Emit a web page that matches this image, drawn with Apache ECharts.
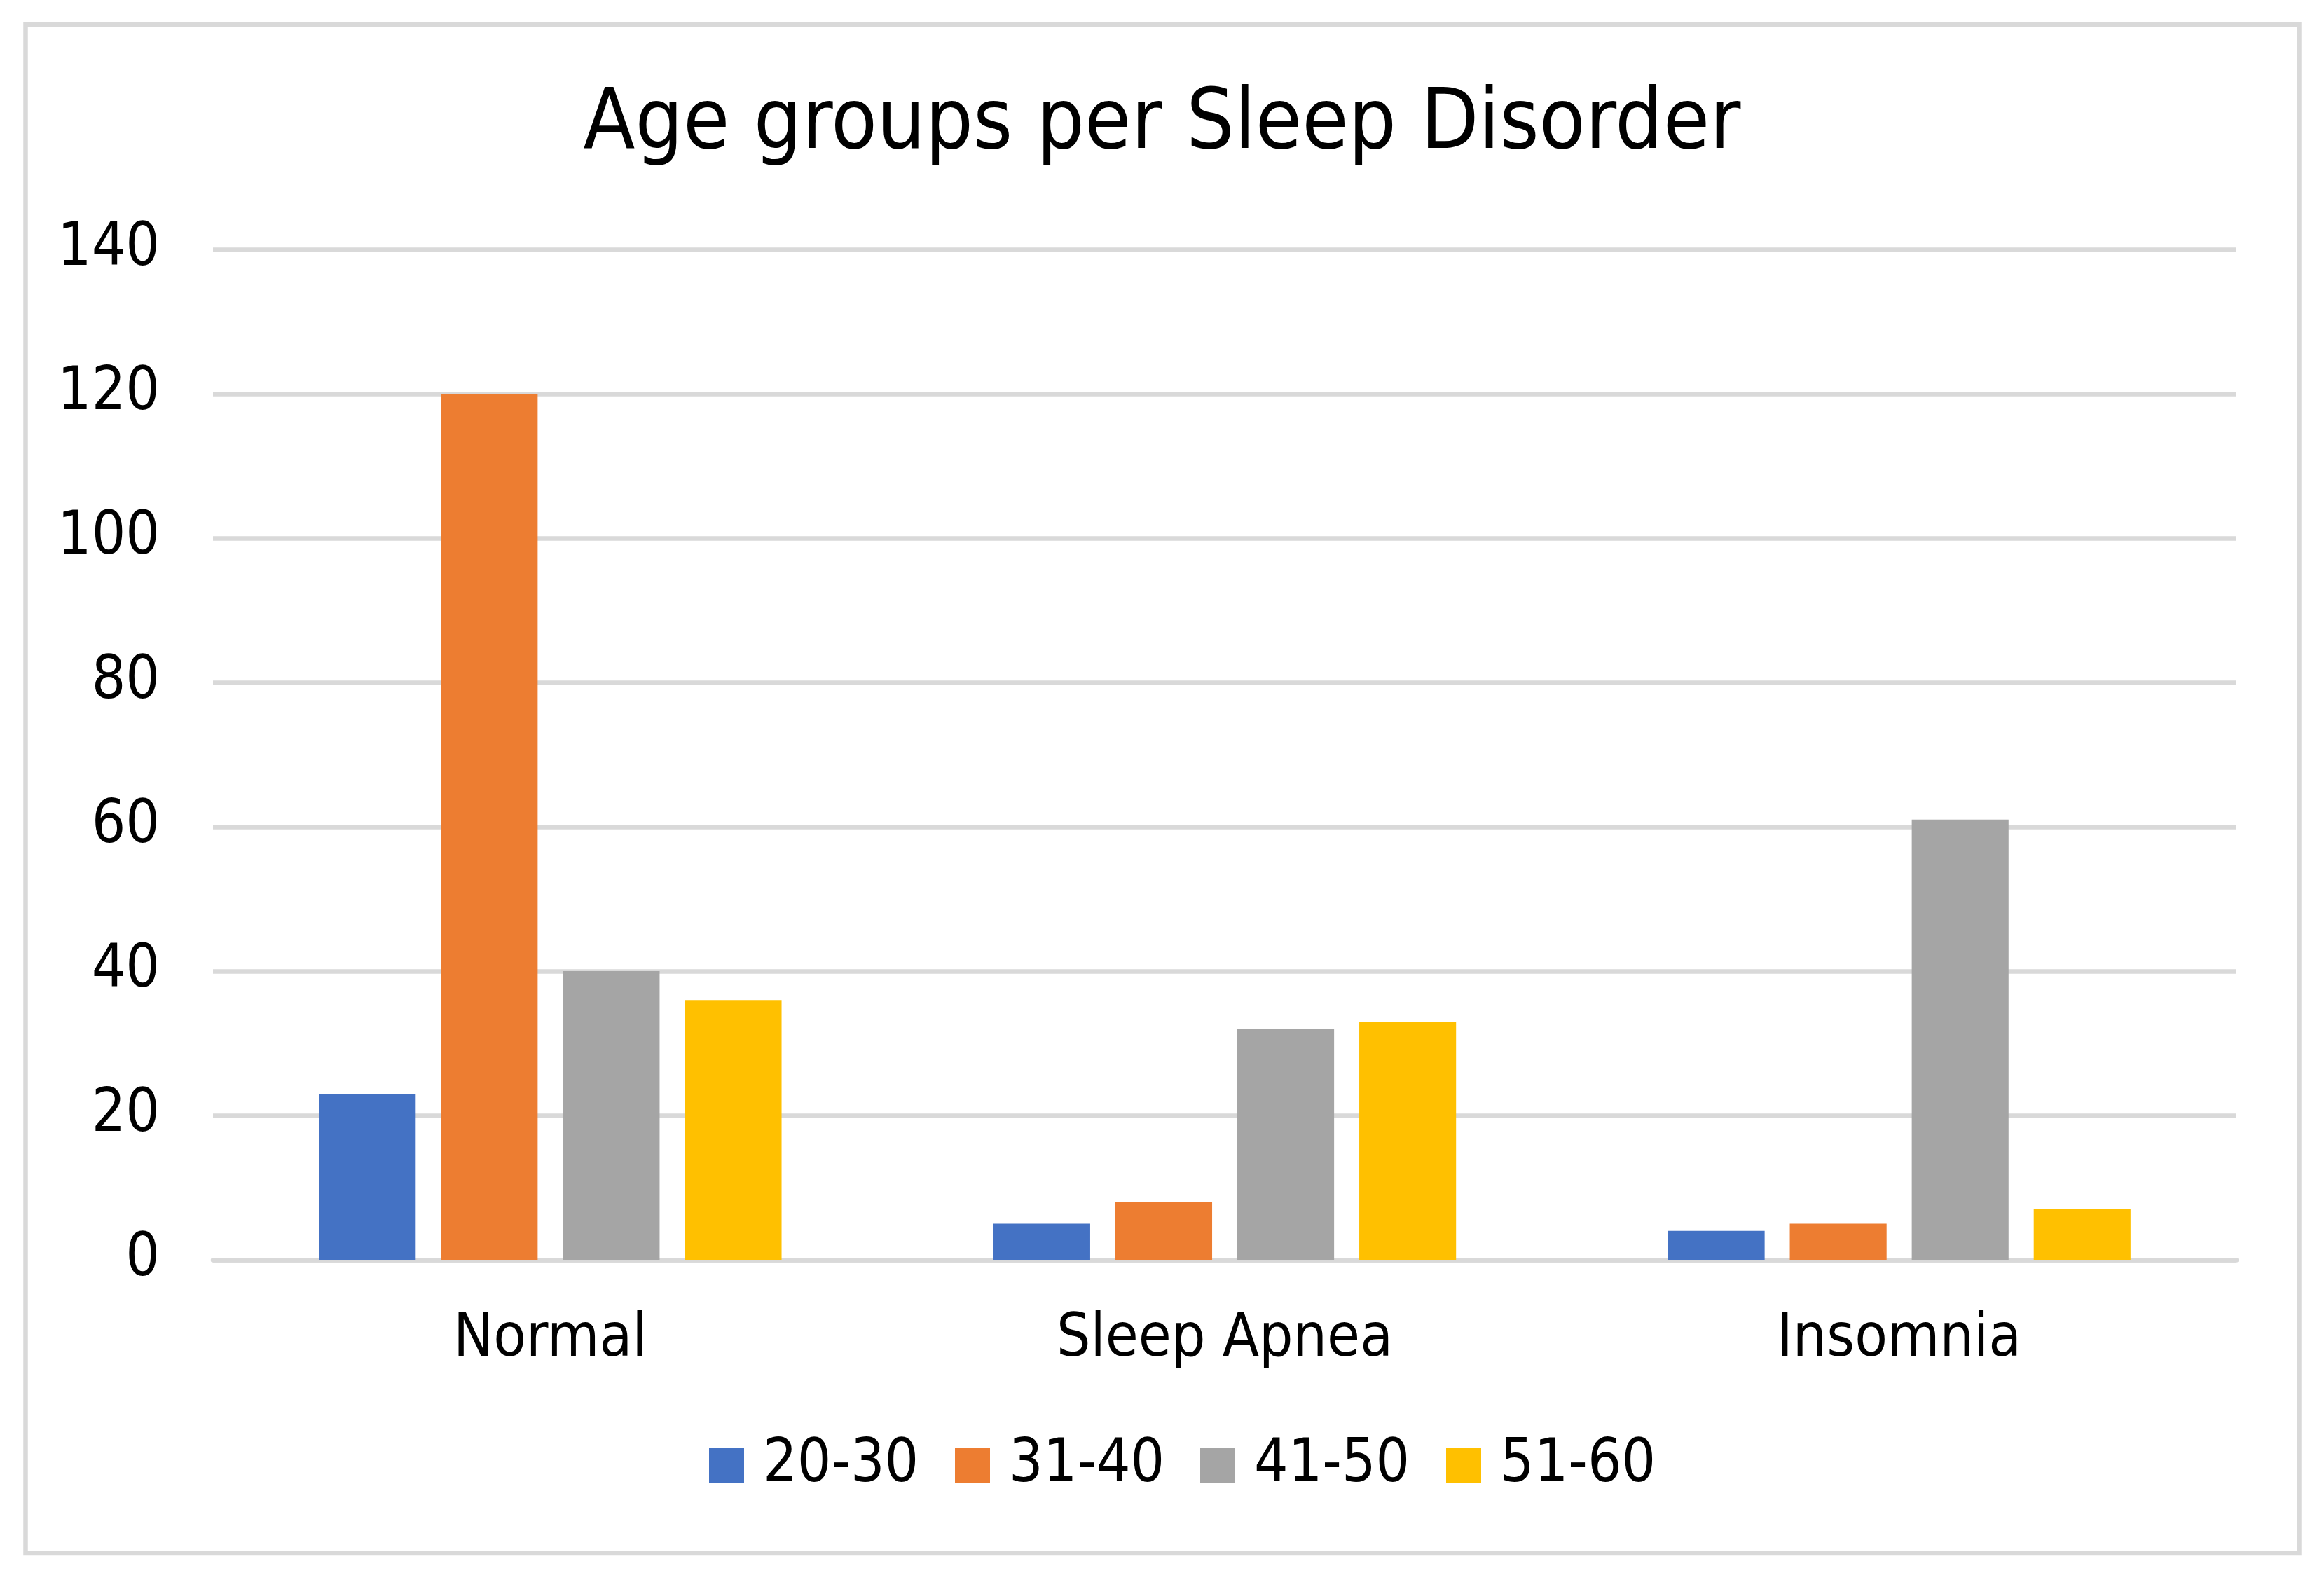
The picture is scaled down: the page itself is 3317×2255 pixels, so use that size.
<!DOCTYPE html>
<html><head><meta charset="utf-8">
<script src="https://cdn.jsdelivr.net/npm/echarts@6/dist/echarts.min.js"></script>
<style>html,body{margin:0;padding:0;background:#fff}#c{width:3317px;height:2255px}</style>
</head><body><div id="c"></div>
<script>
const categories = ['Normal', 'Sleep Apnea', 'Insomnia'];
const seriesNames = ['20-30', '31-40', '41-50', '51-60'];
const age20_30 = [23, 5, 4];
const age31_40 = [120, 8, 5];
const age41_50 = [40, 32, 61];
const age51_60 = [36, 33, 7];
const yMin = 0, yMax = 140, yInterval = 20;
const titleText = 'Age groups per Sleep Disorder';

const colors = ['#4472C4', '#ED7D31', '#A5A5A5', '#FFC000'];
const FONT = "'DejaVu Sans Condensed','DejaVu Sans',sans-serif";
const seriesData = [age20_30, age31_40, age41_50, age51_60];
const legendLefts = [1012, 1363, 1713, 2064];

const chart = echarts.init(document.getElementById('c'), null, {renderer: 'canvas'});
chart.setOption({
  backgroundColor: '#ffffff',
  animation: false,
  color: colors,
  title: {
    text: titleText, left: 'center', top: 120, padding: 0,
    textStyle: {fontFamily: FONT, fontSize: 120, fontWeight: 'normal', color: '#000', lineHeight: 120}
  },
  legend: seriesNames.map((n, i) => ({
    data: [n], left: legendLefts[i], top: 2047, padding: 0,
    icon: 'rect', itemWidth: 50, itemHeight: 50,
    textStyle: {fontFamily: FONT, fontSize: 85, color: '#000', lineHeight: 90, padding: [0, 0, 0, 22]}
  })),
  grid: {left: 304, right: 125, top: 356, bottom: 457, containLabel: false},
  xAxis: {
    type: 'category', data: categories,
    axisLine: {show: true, lineStyle: {color: '#d9d9d9', width: 6.5}},
    axisTick: {show: false},
    axisLabel: {margin: 72, fontFamily: FONT, fontSize: 85, color: '#000', lineHeight: 85}
  },
  yAxis: {
    type: 'value', min: yMin, max: yMax, interval: yInterval,
    axisLine: {show: false}, axisTick: {show: false},
    splitLine: {lineStyle: {color: '#d9d9d9', width: 6.5}},
    axisLabel: {margin: 76, fontFamily: FONT, fontSize: 85, color: '#000', padding: [0, 0, 16, 0]}
  },
  series: seriesNames.map((n, i) => ({
    name: n, type: 'bar', data: seriesData[i],
    barGap: '26%', barCategoryGap: '31.4%'
  })),
  graphic: [{
    type: 'rect', silent: true, z: 100,
    shape: {x: 36.5, y: 35, width: 3245, height: 2182},
    style: {fill: 'none', stroke: '#d9d9d9', lineWidth: 6.5}
  }]
});
</script></body></html>
